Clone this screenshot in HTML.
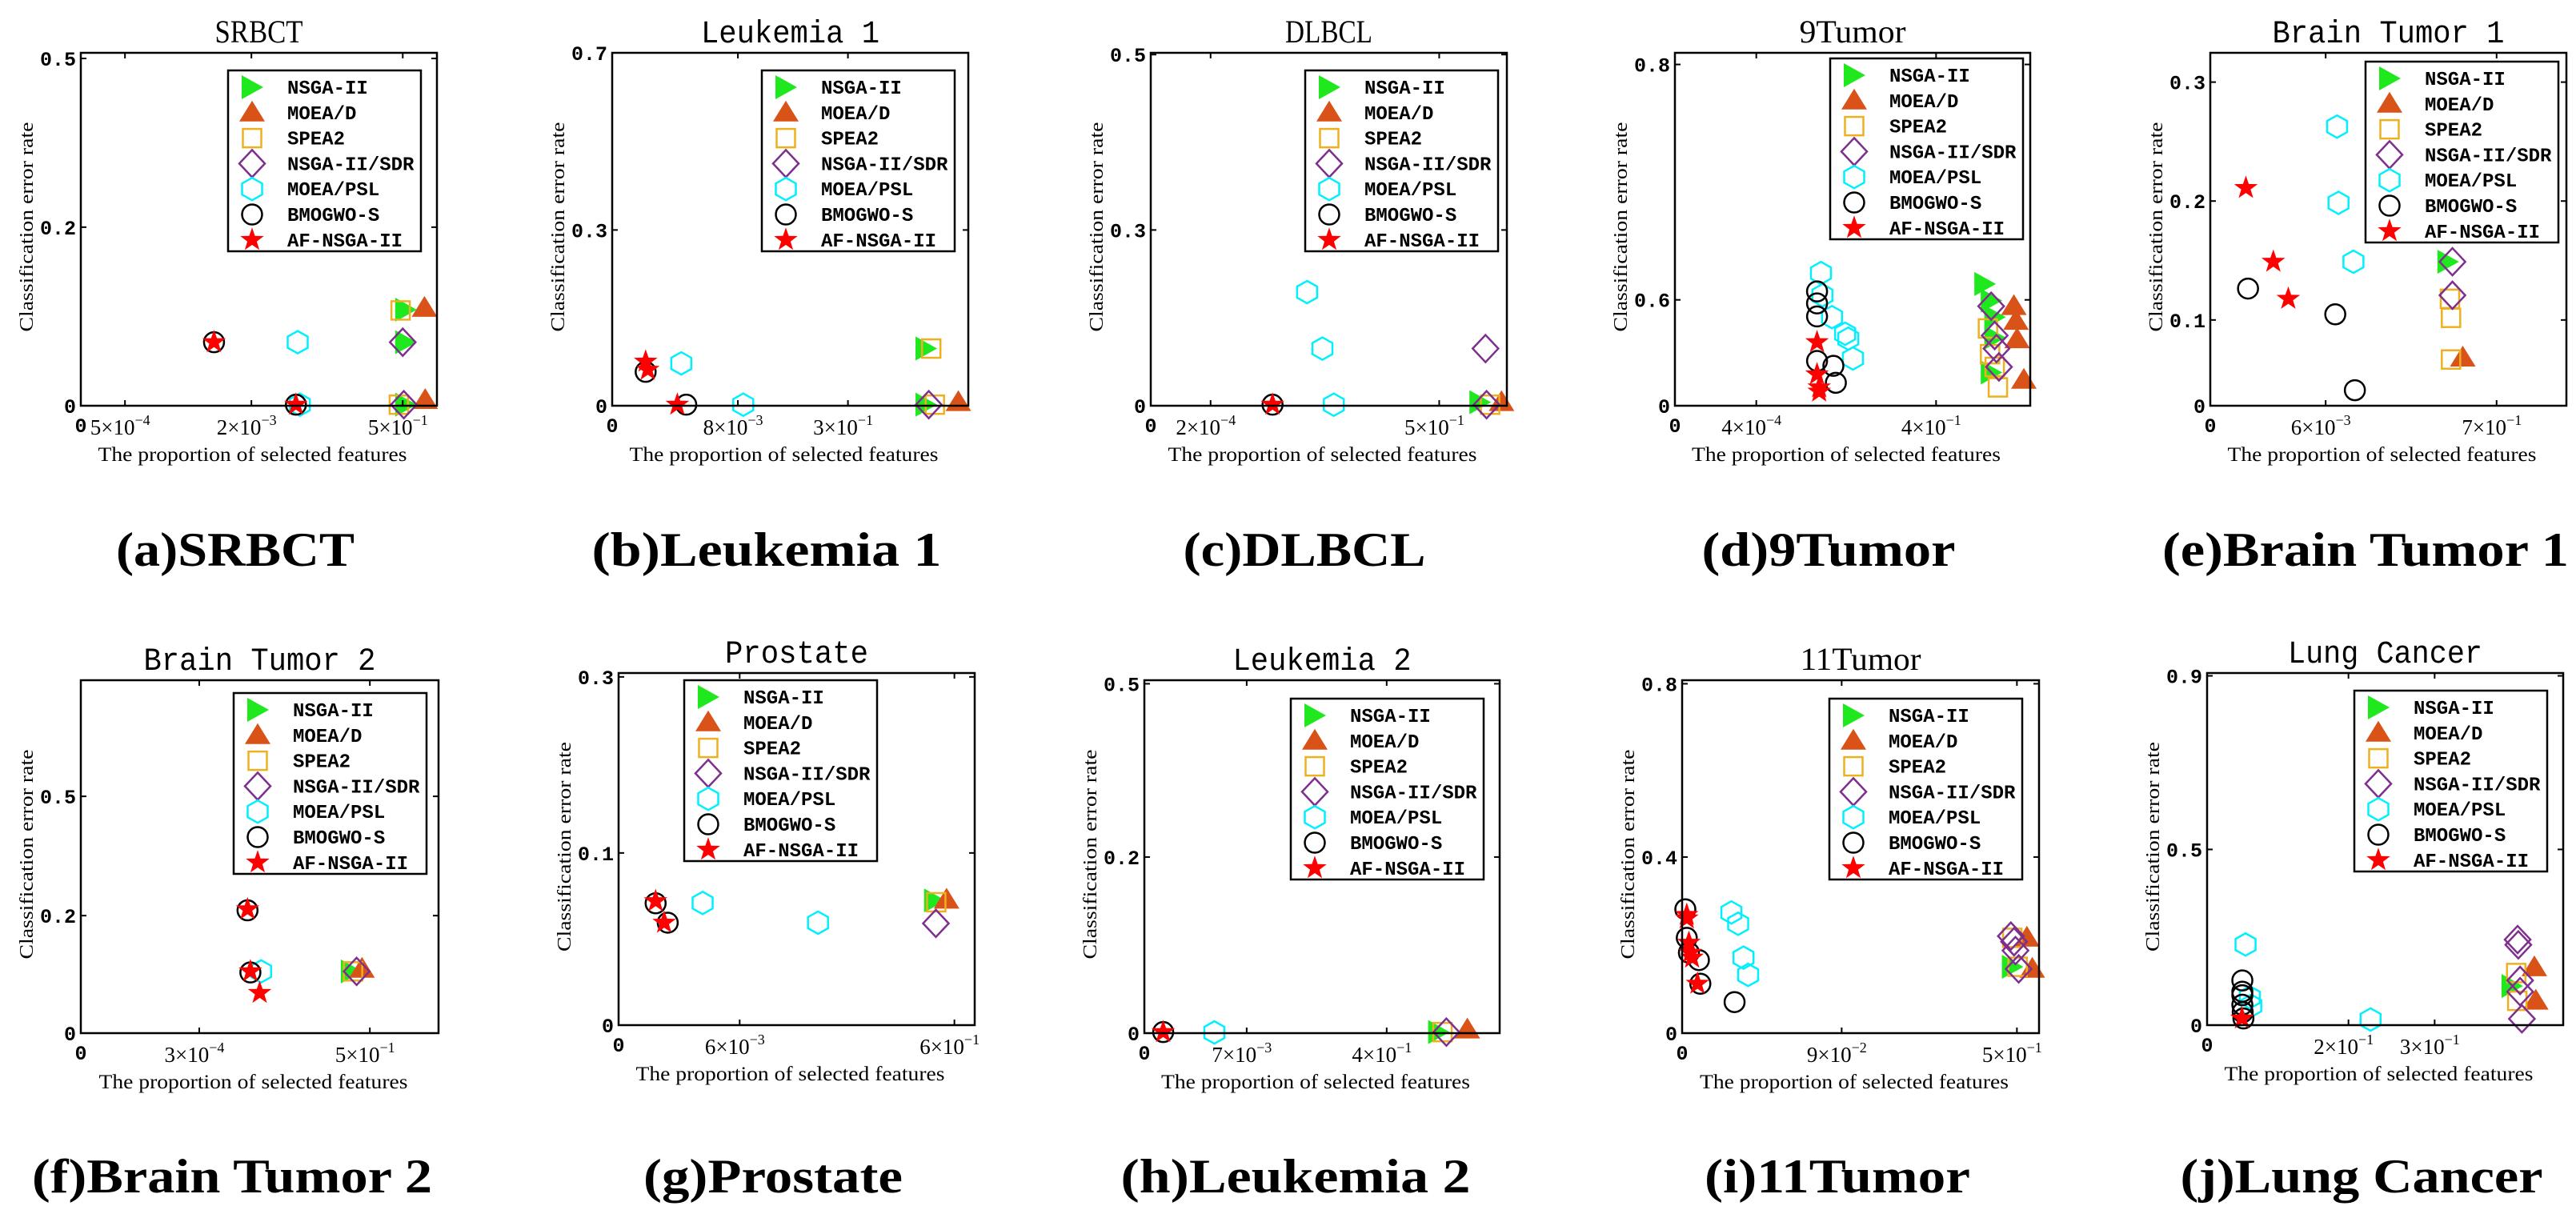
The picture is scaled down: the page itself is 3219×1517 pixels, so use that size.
<!DOCTYPE html>
<html><head><meta charset="utf-8"><style>
html,body{margin:0;padding:0;background:#fff;}
svg{display:block;}
</style></head><body>
<svg id="fig" xmlns="http://www.w3.org/2000/svg" width="3219" height="1517" viewBox="0 0 3219 1517"></svg>
<script>
// ---------- DATA (x,y in axis-position units 0..1; tick arrays map labels) ----------
const a_yt=[0,0.506,0.984]; const a_ytl=['0','0.2','0.5'];
const a_xt=[0.124,0.479,0.904]; const a_xtl=['5|-4','2|-3','5|-1'];
const a_nsga2=[[0.912,0.272],[0.912,0.18],[0.912,0.003]];
const a_moead=[[0.965,0.277],[0.967,0.016]];
const a_spea2=[[0.898,0.27],[0.893,0.003]];
const a_sdr=[[0.904,0.18],[0.907,0.003]];
const a_psl=[[0.609,0.18],[0.615,0.003]];
const a_bmo=[[0.374,0.18],[0.604,0.003]];
const a_af=[[0.374,0.18],[0.604,0.003]];

const b_yt=[0,0.498,1.0]; const b_ytl=['0','0.3','0.7'];
const b_xt=[0.353,0.662]; const b_xtl=['8|-3','3|-1'];
const b_nsga2=[[0.881,0.162],[0.881,0.003]];
const b_moead=[[0.972,0.01]];
const b_spea2=[[0.896,0.162],[0.906,0.003]];
const b_sdr=[[0.889,0.003]];
const b_psl=[[0.194,0.12],[0.368,0.003]];
const b_bmo=[[0.094,0.096],[0.208,0.003]];
const b_af=[[0.094,0.125],[0.1,0.102],[0.183,0.003]];

const c_yt=[0,0.498,0.995]; const c_ytl=['0','0.3','0.5'];
const c_xt=[0.168,0.81]; const c_xtl=['2|-4','5|-1'];
const c_nsga2=[[0.924,0.01]];
const c_moead=[[0.985,0.01]];
const c_spea2=[[0.953,0.003]];
const c_sdr=[[0.94,0.162],[0.943,0.003]];
const c_psl=[[0.439,0.322],[0.482,0.162],[0.514,0.003]];
const c_bmo=[[0.342,0.003]];
const c_af=[[0.342,0.003]];

const d_yt=[0,0.30,0.967]; const d_ytl=['0','0.6','0.8'];
const d_xt=[0.229,0.735]; const d_xtl=['4|-4','4|-1'];
const d_nsga2=[[0.872,0.345],[0.89,0.298],[0.9,0.251],[0.9,0.193],[0.89,0.094]];
const d_moead=[[0.954,0.282],[0.96,0.24],[0.963,0.188],[0.982,0.073]];
const d_spea2=[[0.881,0.219],[0.887,0.146],[0.9,0.11],[0.909,0.052]];
const d_sdr=[[0.89,0.282],[0.9,0.199],[0.905,0.162],[0.912,0.11]];
const d_psl=[[0.411,0.376],[0.415,0.313],[0.442,0.251],[0.479,0.204],[0.488,0.19],[0.501,0.134]];
const d_bmo=[[0.40,0.324],[0.40,0.29],[0.40,0.253],[0.40,0.127],[0.446,0.113],[0.453,0.065]];
const d_af=[[0.40,0.18],[0.40,0.089],[0.406,0.052],[0.406,0.04]];

const e_yt=[0,0.243,0.58,0.917]; const e_ytl=['0','0.1','0.2','0.3'];
const e_xt=[0.324,0.804]; const e_xtl=['6|-3','7|-1'];
const e_nsga2=[[0.667,0.408]];
const e_moead=[[0.709,0.136]];
const e_spea2=[[0.673,0.303],[0.676,0.249],[0.676,0.131]];
const e_sdr=[[0.68,0.408],[0.68,0.313]];
const e_psl=[[0.356,0.791],[0.36,0.575],[0.402,0.408]];
const e_bmo=[[0.106,0.332],[0.351,0.259],[0.406,0.044]];
const e_af=[[0.10,0.617],[0.177,0.408],[0.219,0.303]];

const f_yt=[0,0.333,0.671]; const f_ytl=['0','0.2','0.5'];
const f_xt=[0.331,0.808]; const f_xtl=['3|-4','5|-1'];
const f_nsga2=[[0.756,0.175]];
const f_moead=[[0.786,0.182]];
const f_spea2=[[0.761,0.175]];
const f_sdr=[[0.771,0.175]];
const f_psl=[[0.504,0.175]];
const f_bmo=[[0.466,0.348],[0.474,0.172]];
const f_af=[[0.466,0.351],[0.474,0.175],[0.5,0.114]];

const g_yt=[0,0.489,0.989]; const g_ytl=['0','0.1','0.3'];
const g_xt=[0.34,0.943]; const g_xtl=['6|-3','6|-1'];
const g_nsga2=[[0.887,0.354]];
const g_moead=[[0.921,0.356]];
const g_spea2=[[0.892,0.349]];
const g_sdr=[[0.891,0.289]];
const g_psl=[[0.236,0.347],[0.56,0.291]];
const g_bmo=[[0.104,0.346],[0.138,0.291]];
const g_af=[[0.104,0.352],[0.128,0.291]];

const h_yt=[0,0.499,0.99]; const h_ytl=['0','0.2','0.5'];
const h_xt=[0.288,0.682]; const h_xtl=['7|-3','4|-1'];
const h_nsga2=[[0.828,0.003]];
const h_moead=[[0.909,0.01]];
const h_spea2=[[0.839,0.003]];
const h_sdr=[[0.85,0.003]];
const h_psl=[[0.197,0.002]];
const h_bmo=[[0.053,0.003]];
const h_af=[[0.053,0.003]];

const i_yt=[0,0.499,0.99]; const i_ytl=['0','0.4','0.8'];
const i_xt=[0.447,0.938]; const i_xtl=['9|-2','5|-1'];
const i_nsga2=[[0.925,0.188]];
const i_moead=[[0.966,0.27],[0.981,0.182]];
const i_spea2=[[0.925,0.27],[0.94,0.188]];
const i_sdr=[[0.921,0.275],[0.93,0.259],[0.934,0.234],[0.943,0.182]];
const i_psl=[[0.138,0.342],[0.157,0.31],[0.172,0.214],[0.185,0.165]];
const i_bmo=[[0.009,0.351],[0.013,0.27],[0.019,0.228],[0.047,0.207],[0.051,0.14],[0.147,0.088]];
const i_af=[[0.013,0.335],[0.013,0.325],[0.019,0.256],[0.023,0.228],[0.028,0.214],[0.043,0.14]];

const j_yt=[0,0.499,0.992]; const j_ytl=['0','0.5','0.9'];
const j_xt=[0.397,0.639]; const j_xtl=['2|-1','3|-1'];
const j_nsga2=[[0.856,0.111]];
const j_moead=[[0.919,0.164],[0.923,0.069]];
const j_spea2=[[0.868,0.148],[0.871,0.069]];
const j_sdr=[[0.872,0.243],[0.874,0.228],[0.879,0.127],[0.879,0.095],[0.884,0.018]];
const j_psl=[[0.108,0.229],[0.12,0.079],[0.124,0.055],[0.459,0.016]];
const j_bmo=[[0.099,0.127],[0.099,0.095],[0.099,0.085],[0.099,0.058],[0.1,0.037],[0.102,0.019]];
const j_af=[[0.098,0.019]];

const seriesNames=['NSGA-II','MOEA/D','SPEA2','NSGA-II/SDR','MOEA/PSL','BMOGWO-S','AF-NSGA-II'];
const seriesKeys=['nsga2','moead','spea2','sdr','psl','bmo','af'];

// ---------- LAYOUT ----------
const panels=[
 {id:'a',L:101,T:66,W:445,H:441,title:'SRBCT',tw:110,tf:'Liberation Serif',cap:'(a)SRBCT',cx:294,cw:298,lx:184,ly:22,
  yt:a_yt,ytl:a_ytl,xt:a_xt,xtl:a_xtl,s:[a_nsga2,a_moead,a_spea2,a_sdr,a_psl,a_bmo,a_af]},
 {id:'b',L:765,T:66,W:445,H:441,title:'Leukemia 1',tw:223,tf:'Liberation Mono',cap:'(b)Leukemia 1',cx:958,cw:437,lx:187,ly:22,
  yt:b_yt,ytl:b_ytl,xt:b_xt,xtl:b_xtl,s:[b_nsga2,b_moead,b_spea2,b_sdr,b_psl,b_bmo,b_af]},
 {id:'c',L:1438,T:66,W:445,H:441,title:'DLBCL',tw:109,tf:'Liberation Serif',cap:'(c)DLBCL',cx:1630,cw:303,lx:193,ly:22,
  yt:c_yt,ytl:c_ytl,xt:c_xt,xtl:c_xtl,s:[c_nsga2,c_moead,c_spea2,c_sdr,c_psl,c_bmo,c_af]},
 {id:'d',L:2093,T:66,W:444,H:441,title:'9Tumor',tw:133,tf:'Liberation Serif',cap:'(d)9Tumor',cx:2285,cw:317,lx:194,ly:7,
  yt:d_yt,ytl:d_ytl,xt:d_xt,xtl:d_xtl,s:[d_nsga2,d_moead,d_spea2,d_sdr,d_psl,d_bmo,d_af]},
 {id:'e',L:2762,T:66,W:445,H:441,title:'Brain Tumor 1',tw:290,tf:'Liberation Mono',cap:'(e)Brain Tumor 1',cx:2956,cw:508,lx:194,ly:11,
  yt:e_yt,ytl:e_ytl,xt:e_xt,xtl:e_xtl,s:[e_nsga2,e_moead,e_spea2,e_sdr,e_psl,e_bmo,e_af]},
 {id:'f',L:101,T:850,W:447,H:441,title:'Brain Tumor 2',tw:290,tf:'Liberation Mono',cap:'(f)Brain Tumor 2',cx:290,cw:500,lx:191,ly:16,
  yt:f_yt,ytl:f_ytl,xt:f_xt,xtl:f_xtl,s:[f_nsga2,f_moead,f_spea2,f_sdr,f_psl,f_bmo,f_af]},
 {id:'g',L:773,T:841,W:445,H:440,title:'Prostate',tw:179,tf:'Liberation Mono',cap:'(g)Prostate',cx:966,cw:324,lx:82,ly:9,
  yt:g_yt,ytl:g_ytl,xt:g_xt,xtl:g_xtl,s:[g_nsga2,g_moead,g_spea2,g_sdr,g_psl,g_bmo,g_af]},
 {id:'h',L:1430,T:850,W:444,H:441,title:'Leukemia 2',tw:223,tf:'Liberation Mono',cap:'(h)Leukemia 2',cx:1619,cw:437,lx:183,ly:23,
  yt:h_yt,ytl:h_ytl,xt:h_xt,xtl:h_xtl,s:[h_nsga2,h_moead,h_spea2,h_sdr,h_psl,h_bmo,h_af]},
 {id:'i',L:2102,T:850,W:446,H:441,title:'11Tumor',tw:151,tf:'Liberation Serif',cap:'(i)11Tumor',cx:2296,cw:332,lx:184,ly:23,
  yt:i_yt,ytl:i_ytl,xt:i_xt,xtl:i_xtl,s:[i_nsga2,i_moead,i_spea2,i_sdr,i_psl,i_bmo,i_af]},
 {id:'j',L:2758,T:841,W:445,H:440,title:'Lung Cancer',tw:243,tf:'Liberation Mono',cap:'(j)Lung Cancer',cx:2951,cw:453,lx:184,ly:22,
  yt:j_yt,ytl:j_ytl,xt:j_xt,xtl:j_xtl,s:[j_nsga2,j_moead,j_spea2,j_sdr,j_psl,j_bmo,j_af]}
];

const NS='http://www.w3.org/2000/svg';
const svg=document.getElementById('fig');
function mk(tag,attrs,parent){const e=document.createElementNS(NS,tag);for(const k in attrs)e.setAttribute(k,attrs[k]);(parent||svg).appendChild(e);return e;}

function marker(g,k,cx,cy){
  let el;
  if(k===0){el=mk('polygon',{points:`${cx-13},${cy-15} ${cx+14},${cy} ${cx-13},${cy+15}`,fill:'#1fe81f'},g);}
  else if(k===1){el=mk('polygon',{points:`${cx},${cy-15} ${cx+16},${cy+11} ${cx-16},${cy+11}`,fill:'#d95319'},g);}
  else if(k===2){el=mk('rect',{x:cx-11.5,y:cy-11.5,width:23,height:23,fill:'none',stroke:'#edb120','stroke-width':2.5},g);}
  else if(k===3){el=mk('polygon',{points:`${cx},${cy-17} ${cx+16},${cy} ${cx},${cy+17} ${cx-16},${cy}`,fill:'none',stroke:'#7e2f8e','stroke-width':2.5},g);}
  else if(k===4){el=mk('polygon',{points:`${cx},${cy-14} ${cx+12.5},${cy-7} ${cx+12.5},${cy+7} ${cx},${cy+14} ${cx-12.5},${cy+7} ${cx-12.5},${cy-7}`,fill:'none',stroke:'#00f0ff','stroke-width':2.5},g);}
  else if(k===5){el=mk('circle',{cx:cx,cy:cy,r:12.5,fill:'none',stroke:'#000','stroke-width':2.5},g);}
  else {let p=[];for(let i=0;i<10;i++){const r=i%2?6.2:15.5;const a=-Math.PI/2+i*Math.PI/5;p.push((cx+r*Math.cos(a)).toFixed(1)+','+(cy+r*Math.sin(a)).toFixed(1));}
    el=mk('polygon',{points:p.join(' '),fill:'#ff0000'},g);}
  return el;
}

panels.forEach(P=>{
  const g=mk('g',{});
  
  
  const xs=v=>P.L+v*P.W, ys=v=>P.T+P.H-v*P.H;
  // title
  const t=mk('text',{x:P.L+P.W/2,y:P.T-13,'text-anchor':'middle','font-family':P.tf+', monospace','font-size':40,textLength:P.tw,lengthAdjust:'spacingAndGlyphs'},g);
  t.textContent=P.title;
  
  
  // points
  const pg=mk('g',{},g);
  
  
  P.s.forEach((arr,k)=>{arr.forEach(pt=>{
    const m=marker(pg,k,xs(pt[0]),ys(pt[1]));
    
    
  });});
  // axes box
  const box=mk('rect',{x:P.L,y:P.T,width:P.W,height:P.H,fill:'none',stroke:'#000','stroke-width':2.5},g);
  
  
  // y ticks
  P.yt.forEach((v,i)=>{
    const y=ys(v);
    if(v>0&&v<1){mk('line',{x1:P.L,y1:y,x2:P.L+7,y2:y,stroke:'#000','stroke-width':2},g);mk('line',{x1:P.L+P.W,y1:y,x2:P.L+P.W-7,y2:y,stroke:'#000','stroke-width':2},g);}
    const tl=mk('text',{x:P.L-6,y:y+9,'text-anchor':'end','font-family':'Liberation Mono, monospace','font-weight':'bold','font-size':25},g);
    tl.textContent=P.ytl[i];
    
    
  });
  // x ticks
  const z=mk('text',{x:P.L,y:P.T+P.H+33,'text-anchor':'middle','font-family':'Liberation Mono, monospace','font-weight':'bold','font-size':25},g);
  z.textContent='0';
  
  
  P.xt.forEach((v,i)=>{
    const x=xs(v);
    mk('line',{x1:x,y1:P.T+P.H,x2:x,y2:P.T+P.H-7,stroke:'#000','stroke-width':2},g);
    mk('line',{x1:x,y1:P.T,x2:x,y2:P.T+7,stroke:'#000','stroke-width':2},g);
    const parts=P.xtl[i].split('|');
    const tl=mk('text',{x:x-6,y:P.T+P.H+36,'text-anchor':'middle','font-family':'Liberation Serif, serif','font-size':27},g);
    
    
    const a=mk('tspan',{},tl);a.textContent=parts[0]+'×10';
    const b=mk('tspan',{dy:-12,'font-size':18},tl);b.textContent=parts[1].replace('-','−');
  });
  // axis labels
  const xl=mk('text',{x:P.L+P.W/2-8,y:P.T+P.H+69,'text-anchor':'middle','font-family':'Liberation Serif, serif','font-size':25,textLength:386,lengthAdjust:'spacingAndGlyphs'},g);
  xl.textContent='The proportion of selected features';
  
  
  const yx=P.L-60, yy=P.T+P.H/2-3;
  const yl=mk('text',{x:yx,y:yy,'text-anchor':'middle','font-family':'Liberation Serif, serif','font-size':24,textLength:262,lengthAdjust:'spacingAndGlyphs',transform:`rotate(-90 ${yx} ${yy})`},g);
  yl.textContent='Classification error rate';
  
  
  // legend
  const lg=mk('g',{},g);
  
  
  const LX=P.L+P.lx, LY=P.T+P.ly;
  mk('rect',{x:LX,y:LY,width:241,height:226,fill:'#fff',stroke:'#000','stroke-width':2.5},lg);
  seriesNames.forEach((n,k)=>{
    const ry=LY+21+k*31.8;
    const m=marker(lg,k,LX+30,ry);
    
    
    const lt=mk('text',{x:LX+74,y:ry+8,'font-family':'Liberation Mono, monospace','font-weight':'bold','font-size':24},lg);
    lt.textContent=n;
    
    
  });
  // caption
  const cy=P.T<400?707:1490;
  const c=mk('text',{x:P.cx,y:cy,'text-anchor':'middle','font-family':'Liberation Serif, serif','font-weight':'bold','font-size':60,textLength:P.cw,lengthAdjust:'spacingAndGlyphs'},g);
  c.textContent=P.cap;
  
  
});
</script>
</body></html>
